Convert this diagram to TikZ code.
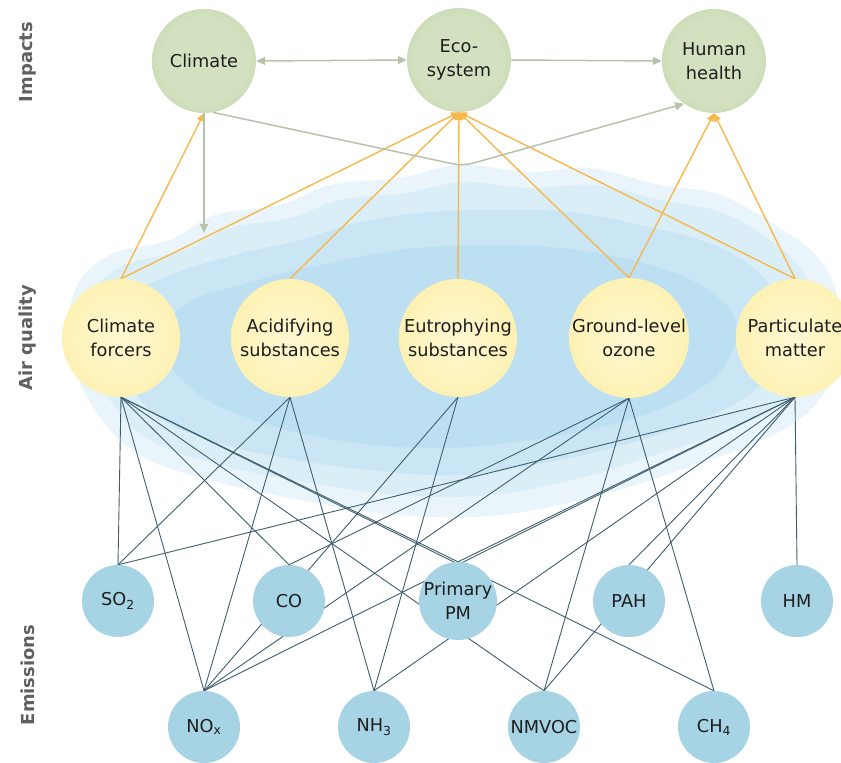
\documentclass[tikz,border=0pt]{standalone}
\usepackage{fontspec}
\setmainfont{DejaVu Sans}
\usetikzlibrary{arrows.meta}
\pgfdeclarelayer{cloudlayer}
\pgfdeclarelayer{linelayer}
\pgfsetlayers{cloudlayer,linelayer,main}

\definecolor{gcen}{HTML}{D3E1C0}
\definecolor{gmid}{HTML}{BDD2A2}
\definecolor{gedge}{HTML}{9AB67C}
\definecolor{ycen}{HTML}{FEF8D2}
\definecolor{ymid}{HTML}{FDF1B4}
\definecolor{yedge}{HTML}{F9E696}
\definecolor{emblue}{HTML}{A7D4E5}
\definecolor{linkcol}{HTML}{3E5E6E}
\definecolor{orangecol}{HTML}{F7B84A}
\definecolor{graycol}{HTML}{B7C2AA}
\definecolor{txtcol}{HTML}{1E1E1E}
\definecolor{sidecol}{HTML}{606060}
\definecolor{cloudA}{HTML}{EAF5FB}
\definecolor{cloudB}{HTML}{DAEEF8}
\definecolor{cloudC}{HTML}{CAE6F5}
\definecolor{cloudD}{HTML}{BCDFF2}

\pgfdeclareradialshading{greenball}{\pgfpoint{0bp}{0bp}}{color(0bp)=(gcen); color(20bp)=(gcen); color(40bp)=(gmid); color(50bp)=(gedge)}
\pgfdeclareradialshading{yellowball}{\pgfpoint{0bp}{0bp}}{color(0bp)=(ycen); color(25bp)=(ymid); color(46bp)=(yedge); color(50bp)=(yedge)}

\newcommand\circfont{\fontsize{17.8pt}{24pt}\selectfont}
\newcommand\sidefont{\fontsize{18pt}{20pt}\selectfont\bfseries}

\tikzset{
  impact/.style={circle, minimum size=104bp, inner sep=0pt, shading=greenball, font=\circfont, align=center, text=txtcol},
  aq/.style={circle, minimum size=118bp, inner sep=0pt, shading=yellowball, font=\circfont, align=center, text=txtcol},
  em/.style={circle, minimum size=72bp, inner sep=0pt, fill=emblue, font=\circfont, align=center, text=txtcol},
  link/.style={draw=linkcol, line width=0.9pt},
  effect/.style={draw=orangecol, line width=1.4pt, -{Triangle[length=8bp,width=7bp]}},
  inter/.style={draw=graycol, line width=1.5pt, -{Triangle[length=9bp,width=8bp]}},
  side/.style={rotate=90, font=\sidefont, text=sidecol},
  cloudpart/.style={smooth cycle, tension=0.65}
}

\begin{document}
\begin{tikzpicture}[x=1bp, y=-1bp]
\useasboundingbox (0,0) rectangle (841,763);

% side labels
\node[side] (lblimp) at (28,62) {Impacts};
\node[side] (lblaq) at (28,338) {Air quality};
\node[side] (lblem) at (28,675) {Emissions};

% impacts
\node[impact] (cl) at (204,61) {Climate};
\node[impact] (eco) at (459,60) {Eco-\\system};
\node[impact] (hh) at (714,61) {Human\\health};

% air quality
\node[aq] (cf) at (121,338) {Climate\\forcers};
\node[aq] (ac) at (290,338) {Acidifying\\substances};
\node[aq] (eu) at (458,338) {Eutrophying\\substances};
\node[aq] (gl) at (629,338) {Ground-level\\ozone};
\node[aq] (pm) at (795,338) {Particulate\\matter};

% emissions
\node[em] (so2) at (118,601) {SO\textsubscript{2}};
\node[em] (co) at (289,601) {CO};
\node[em] (ppm) at (458,601) {Primary\\PM};
\node[em] (pah) at (629,601) {PAH};
\node[em] (hm) at (797,601) {HM};
\node[em] (nox) at (204,727) {NO\textsubscript{x}};
\node[em] (nh3) at (374,727) {NH\textsubscript{3}};
\node[em] (nmvoc) at (544,727) {NMVOC};
\node[em] (ch4) at (714,727) {CH\textsubscript{4}};

\coordinate (clend) at (204,233);
\coordinate (bend) at (463,166);

\begin{pgfonlayer}{cloudlayer}
\fill[white] (0,0) rectangle (841,763);
\fill[cloudA] plot[cloudpart] coordinates {(70,350) (75,290) (110,255) (170,240) (215,215) (280,205) (330,185) (400,178) (460,165) (530,172) (590,168) (660,185) (720,195) (775,225) (820,260) (840,310) (835,370) (805,415) (750,445) (680,470) (600,495) (500,515) (400,515) (300,500) (210,480) (140,455) (95,410)};
\fill[cloudB] plot[cloudpart] coordinates {(85,350) (92,295) (125,265) (185,250) (230,228) (290,218) (340,200) (405,193) (465,182) (530,188) (595,185) (660,200) (720,212) (770,240) (805,275) (818,320) (810,370) (780,405) (725,432) (655,455) (580,478) (490,495) (400,495) (305,482) (220,465) (150,440) (110,400)};
\fill[cloudC] plot[cloudpart] coordinates {(110,345) (125,300) (170,275) (235,255) (300,240) (360,222) (430,212) (500,210) (570,212) (640,225) (700,240) (750,265) (780,305) (780,350) (755,390) (700,420) (630,443) (550,462) (460,475) (370,470) (285,458) (210,440) (150,410)};
\fill[cloudD] plot[cloudpart] coordinates {(160,345) (185,305) (240,285) (320,265) (400,250) (480,245) (560,248) (640,262) (700,285) (735,320) (725,365) (680,400) (610,425) (530,440) (440,448) (350,442) (270,425) (200,395)};
\end{pgfonlayer}

\begin{pgfonlayer}{linelayer}
% emissions to air quality
\foreach \e in {so2,nox,co,nmvoc,ppm,ch4} \draw[link] (cf.south) -- (\e.north);
\foreach \e in {so2,nox,nh3} \draw[link] (ac.south) -- (\e.north);
\foreach \e in {nox,nh3} \draw[link] (eu.south) -- (\e.north);
\foreach \e in {nox,co,nmvoc,ch4} \draw[link] (gl.south) -- (\e.north);
\foreach \e in {so2,nox,nh3,ppm,nmvoc,pah,hm} \draw[link] (pm.south) -- (\e.north);
% air quality to impacts
\draw[effect] (cf.north) -- (cl.south);
\draw[effect] (cf.north) -- (eco.south);
\draw[effect] (ac.north) -- (eco.south);
\draw[effect] (eu.north) -- (eco.south);
\draw[effect] (gl.north) -- (eco.south);
\draw[effect] (gl.north) -- (hh.south);
\draw[effect] (pm.north) -- (eco.south);
\draw[effect] (pm.north) -- (hh.south);
% interactions between impacts
\draw[inter, {Triangle[length=9bp,width=8bp]}-{Triangle[length=9bp,width=8bp]}] (cl.east) -- (eco.west);
\draw[inter] (eco.east) -- (hh.west);
\draw[inter] (cl.south) -- (clend);
\draw[inter, rounded corners=10bp] (cl.-80) -- (bend) -- (hh.235);
\end{pgfonlayer}
\end{tikzpicture}
\end{document}
